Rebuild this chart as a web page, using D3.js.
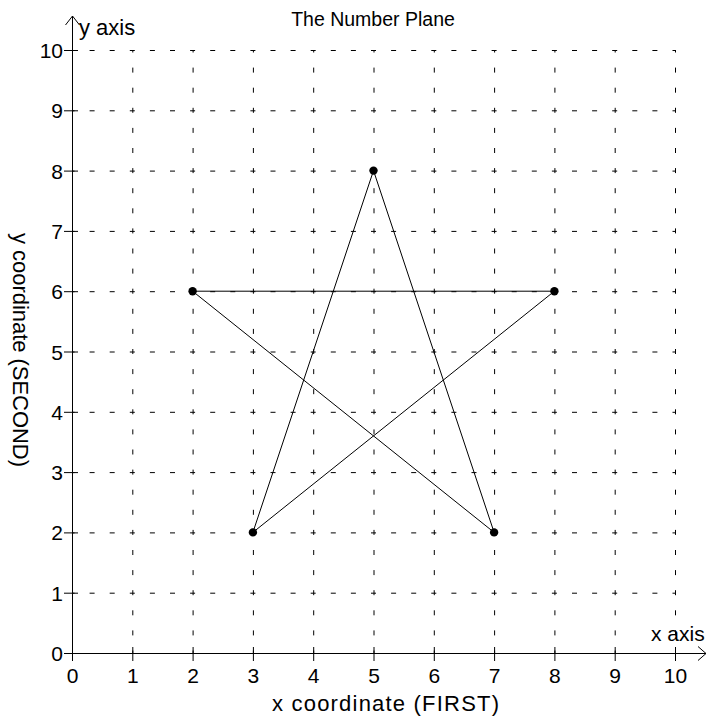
<!DOCTYPE html>
<html>
<head>
<meta charset="utf-8">
<script src="https://cdn.jsdelivr.net/npm/d3@7"></script>
<style>
  body { margin: 0; background: #fff; }
  text { font-family: "Liberation Sans", Arial, sans-serif; fill: #000; }
</style>
</head>
<body>
<div id="chart"></div>
<script>
// star vertices, in drawing order
const starX = [2, 8, 3, 5, 7, 2]
const starY = [6, 6, 2, 8, 2, 6]
const xTicks = [0, 1, 2, 3, 4, 5, 6, 7, 8, 9, 10]
const yTicks = [0, 1, 2, 3, 4, 5, 6, 7, 8, 9, 10]

const width = 706
const height = 718

const svg = d3.select("#chart")
  .append("svg")
  .attr("width", width)
  .attr("height", height)

const x = d3.scaleLinear().domain([0, 10]).range([72, 675])
const y = d3.scaleLinear().domain([0, 10]).range([653, 50])

const unit = x(1) - x(0)
const dash = `5,${unit / 3 - 5}`

// dashed grid
const grid = svg.append("g")
  .attr("stroke", "#000")
  .attr("stroke-width", 1)
  .attr("stroke-dasharray", dash)
  .attr("stroke-dashoffset", 2.5)

grid.selectAll(".gx")
  .data(xTicks.slice(1))
  .enter()
  .append("line")
  .attr("x1", d => x(d) + 0.5)
  .attr("x2", d => x(d) + 0.5)
  .attr("y1", y(0))
  .attr("y2", y(10))

grid.selectAll(".gy")
  .data(yTicks.slice(1))
  .enter()
  .append("line")
  .attr("y1", d => y(d) + 0.5)
  .attr("y2", d => y(d) + 0.5)
  .attr("x1", x(0))
  .attr("x2", x(10))

// axes with arrows
const axes = svg.append("g")
  .attr("stroke", "#000")
  .attr("stroke-width", 1)
  .attr("fill", "none")

axes.append("line")
  .attr("x1", x(0) - 8).attr("x2", 706)
  .attr("y1", y(0) + 0.5).attr("y2", y(0) + 0.5)
axes.append("path")
  .attr("d", `M698,${y(0) - 6.5}L706,${y(0) + 0.5}L698,${y(0) + 7.5}`)

axes.append("line")
  .attr("x1", x(0) + 0.5).attr("x2", x(0) + 0.5)
  .attr("y1", y(0) + 8).attr("y2", 16)
axes.append("path")
  .attr("d", `M${x(0) - 6.5},25L${x(0) + 0.5},16L${x(0) + 7.5},25`)

axes.selectAll(".tx")
  .data(xTicks)
  .enter()
  .append("line")
  .attr("x1", d => x(d) + 0.5)
  .attr("x2", d => x(d) + 0.5)
  .attr("y1", y(0) - 6)
  .attr("y2", y(0) + 8)

axes.selectAll(".ty")
  .data(yTicks)
  .enter()
  .append("line")
  .attr("y1", d => y(d) + 0.5)
  .attr("y2", d => y(d) + 0.5)
  .attr("x1", x(0) - 8)
  .attr("x2", x(0) + 6)

svg.selectAll(".lx")
  .data(xTicks)
  .enter()
  .append("text")
  .attr("x", d => x(d) + 0.5)
  .attr("y", 683)
  .attr("text-anchor", "middle")
  .style("font-size", "21px")
  .text(d => d)

svg.selectAll(".ly")
  .data(yTicks)
  .enter()
  .append("text")
  .attr("x", 63)
  .attr("y", d => y(d) + 8)
  .attr("text-anchor", "end")
  .style("font-size", "21px")
  .text(d => d)

// star
const pts = starX.map((d, i) => [x(d), y(starY[i])])

svg.append("path")
  .attr("d", d3.line()(pts))
  .attr("fill", "none")
  .attr("stroke", "#000")
  .attr("stroke-width", 1)

svg.selectAll(".pt")
  .data(pts.slice(0, 5))
  .enter()
  .append("circle")
  .attr("cx", d => d[0])
  .attr("cy", d => d[1])
  .attr("r", 4.2)
  .attr("fill", "#000")

// labels
svg.append("text")
  .attr("x", 373)
  .attr("y", 26)
  .attr("text-anchor", "middle")
  .style("font-size", "19.5px")
  .text("The Number Plane")

svg.append("text")
  .attr("x", 79)
  .attr("y", 35)
  .style("font-size", "22px")
  .text("y axis")

svg.append("text")
  .attr("x", 651)
  .attr("y", 641)
  .style("font-size", "21px")
  .text("x axis")

svg.append("text")
  .attr("x", 272)
  .attr("y", 711)
  .attr("textLength", 227)
  .attr("lengthAdjust", "spacing")
  .style("font-size", "22px")
  .text("x coordinate (FIRST)")

svg.append("text")
  .attr("transform", "translate(13,233) rotate(90)")
  .attr("textLength", 234)
  .attr("lengthAdjust", "spacing")
  .style("font-size", "22px")
  .text("y coordinate (SECOND)")
</script>
</body>
</html>
